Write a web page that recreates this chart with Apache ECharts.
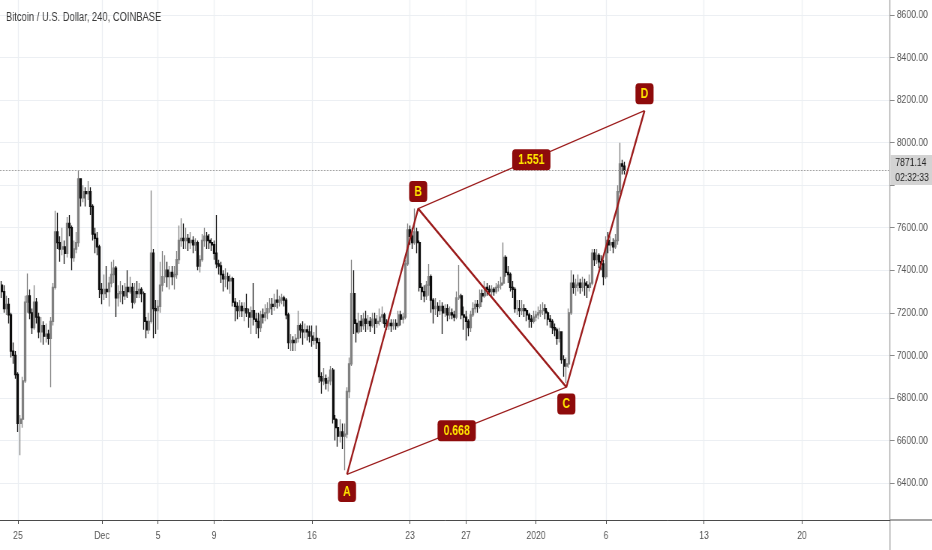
<!DOCTYPE html>
<html><head><meta charset="utf-8">
<script src="https://cdn.jsdelivr.net/npm/echarts@6/dist/echarts.min.js"></script>
<style>
html,body{margin:0;padding:0;background:#fff;overflow:hidden}
#wrap{width:932px;height:550px;overflow:hidden;position:relative}
#c{width:1243px;height:550px;transform:scaleX(0.75);transform-origin:0 0;position:absolute;left:0;top:0}
</style>
</head><body><div id="wrap"><div id="c"></div></div>
<script>
const titleText = 'Bitcoin / U.S. Dollar, 240, COINBASE';
const firstCandle = '2019-11-23T20:00:00Z';
const candleHours = 4;
const firstOpen = 7330;
const closes = [7300,
 7220,7240,7190,7020,7000,6910,
 6680,6700,6880,7250,7280,7200,
 7130,7250,7180,7110,7140,7090,
 7100,7080,7160,7320,7580,7530,
 7500,7510,7480,7620,7600,7460,
 7500,7530,7830,7740,7770,7760,
 7770,7700,7570,7550,7510,7310,
 7290,7310,7300,7340,7380,7410,
 7270,7290,7300,7280,7320,7300,
 7320,7250,7300,7290,7310,7290,
 7160,7120,7160,7480,7220,7210,
 7230,7330,7370,7400,7370,7390,
 7370,7380,7450,7540,7550,7540,
 7550,7530,7540,7520,7530,7420,
 7450,7540,7560,7540,7530,7520,
 7480,7430,7420,7380,7360,7370,
 7350,7360,7250,7230,7210,7230,
 7210,7220,7200,7180,7210,7170,
 7160,7130,7190,7180,7200,7220,
 7240,7230,7260,7250,7260,7270,
 7260,7190,7060,7070,7060,7080,
 7140,7120,7110,7120,7110,7090,
 7070,7080,7060,6900,6880,6890,
 6870,6880,6930,6700,6660,6620,
 6640,6620,6630,6830,6960,7290,
 7150,7110,7160,7140,7170,7150,
 7160,7140,7170,7150,7160,7180,
 7190,7150,7140,7150,7140,7150,
 7140,7190,7170,7180,7430,7590,
 7560,7530,7580,7530,7320,7300,
 7280,7330,7370,7260,7220,7230,
 7210,7230,7200,7220,7190,7200,
 7190,7180,7270,7280,7190,7180,
 7160,7130,7190,7220,7240,7230,
 7290,7280,7320,7310,7300,7310,
 7300,7320,7330,7340,7460,7390,
 7380,7320,7310,7220,7220,7210,
 7220,7210,7190,7170,7160,7180,
 7190,7200,7210,7220,7200,7170,
 7160,7130,7120,7080,7110,6980,
 6950,6960,7200,7340,7320,7330,
 7340,7320,7340,7330,7320,7340,
 7480,7450,7470,7440,7430,7370,
 7540,7520,7530,7510,7540,7770,
 7900,7890,7871.14];
const highs = [7350,
 7330,7280,7270,7200,7060,7020,
 6920,6720,6900,7280,7385,7310,
 7220,7330,7270,7200,7180,7160,
 7150,7120,7180,7340,7680,7670,
 7560,7600,7540,7650,7660,7610,
 7540,7580,7870,7830,7800,7790,
 7820,7790,7710,7600,7580,7520,
 7340,7380,7420,7370,7440,7450,
 7420,7330,7350,7330,7340,7400,
 7370,7340,7340,7350,7340,7320,
 7300,7180,7200,7775,7500,7260,
 7260,7440,7490,7470,7440,7420,
 7420,7420,7490,7610,7645,7620,
 7600,7570,7580,7560,7550,7540,
 7470,7570,7600,7580,7570,7550,
 7540,7660,7450,7440,7400,7410,
 7390,7380,7370,7270,7250,7260,
 7250,7250,7290,7220,7230,7340,
 7200,7200,7210,7220,7240,7250,
 7270,7270,7290,7310,7280,7290,
 7280,7270,7200,7100,7090,7100,
 7210,7150,7160,7150,7140,7140,
 7140,7110,7140,7080,6920,6940,
 6910,6900,6950,6940,6720,6700,
 6700,6680,6680,6850,6990,7450,
 7400,7170,7200,7190,7200,7210,
 7190,7180,7200,7200,7190,7220,
 7230,7200,7170,7180,7170,7170,
 7170,7210,7210,7200,7450,7620,
 7610,7600,7690,7600,7540,7340,
 7330,7350,7430,7380,7270,7270,
 7250,7260,7250,7240,7240,7230,
 7220,7210,7300,7425,7290,7230,
 7210,7170,7210,7250,7260,7260,
 7310,7310,7350,7340,7330,7330,
 7320,7340,7350,7370,7530,7470,
 7420,7390,7350,7320,7260,7260,
 7260,7240,7220,7200,7190,7210,
 7210,7230,7240,7250,7240,7210,
 7190,7170,7150,7130,7130,7110,
 7000,6990,7220,7400,7380,7360,
 7380,7360,7370,7360,7350,7380,
 7500,7500,7500,7480,7470,7450,
 7560,7580,7560,7550,7570,7800,
 8000,7920,7910];
const lows = [7270,
 7200,7190,7150,6990,6960,6890,
 6640,6530,6660,6870,7200,7170,
 7100,7120,7150,7080,7060,7050,
 7060,7050,6850,7140,7310,7500,
 7440,7470,7430,7460,7560,7400,
 7440,7480,7510,7700,7720,7700,
 7730,7660,7540,7480,7470,7270,
 7240,7260,7270,7230,7320,7340,
 7180,7230,7250,7240,7260,7270,
 7290,7220,7240,7270,7270,7250,
 7120,7080,7100,7150,7080,7100,
 7120,7200,7300,7340,7320,7310,
 7330,7310,7360,7430,7510,7500,
 7500,7490,7500,7480,7490,7400,
 7390,7440,7510,7500,7500,7490,
 7450,7410,7380,7340,7300,7320,
 7310,7290,7230,7160,7170,7180,
 7180,7160,7180,7130,7100,7140,
 7100,7080,7110,7150,7160,7170,
 7200,7190,7210,7220,7230,7240,
 7230,7170,7030,7020,7020,7020,
 7060,7080,7050,7080,7070,7060,
 7040,7050,7030,6870,6820,6860,
 6840,6830,6860,6680,6600,6570,
 6590,6560,6460,6610,6800,6950,
 7100,7060,7100,7110,7120,7110,
 7120,7110,7130,7100,7130,7140,
 7150,7130,7120,7120,7110,7120,
 7120,7130,7140,7150,7170,7420,
 7520,7500,7520,7480,7300,7260,
 7250,7260,7280,7200,7150,7190,
 7180,7190,7100,7180,7160,7170,
 7170,7160,7170,7260,7170,7120,
 7070,7090,7110,7180,7200,7200,
 7220,7250,7270,7280,7280,7280,
 7280,7290,7300,7310,7330,7370,
 7340,7300,7270,7200,7190,7180,
 7190,7180,7160,7130,7130,7150,
 7160,7170,7180,7190,7170,7140,
 7130,7100,7090,7050,7060,6960,
 6900,6870,6940,7190,7290,7280,
 7300,7290,7300,7280,7270,7300,
 7330,7420,7430,7410,7400,7330,
 7360,7480,7490,7480,7500,7520,
 7760,7850,7850];
const countdown = '02:32:33';

// Harmonic pattern points
const patternNames = ['A', 'B', 'C', 'D'];
const patternTimes = ['2019-12-18T12:00:00Z', '2019-12-23T14:00:00Z', '2020-01-03T04:00:00Z', '2020-01-08T18:00:00Z'];
const patternValues = [6440, 7690, 6851, 8150];
const ratioLabels = ['0.668', '1.551'];

// Axes
const xTickDates = ['2019-11-25','2019-12-01','2019-12-05','2019-12-09','2019-12-16','2019-12-23','2019-12-27','2020-01-01','2020-01-06','2020-01-13','2020-01-20'];
const xTickLabels = ['25','Dec','5','9','16','23','27','2020','6','13','20'];
const xMinDate = '2019-11-23T17:09:00Z';
const xMaxDate = '2020-01-26T06:51:00Z';
const yTicks = [6400, 6600, 6800, 7000, 7200, 7400, 7600, 7800, 8000, 8200, 8400, 8600];
const yLabelTicks = [6400, 6600, 6800, 7000, 7200, 7400, 7600, 8000, 8200, 8400, 8600];
const yMin = 6226, yMax = 8670.5;

// time -> days since the first x tick (a plain value axis in days)
const base = Date.parse(xTickDates[0] + 'T00:00:00Z');
const DAY = 86400000;
const toDay = ms => (ms - base) / DAY;

const t0 = Date.parse(firstCandle);
const n = Math.min(closes.length, highs.length, lows.length);
const candles = [];
for (let i = 0; i < n; i++) {
  const o = i === 0 ? firstOpen : closes[i - 1];
  const c = closes[i];
  candles.push([toDay(t0 + i * candleHours * 3600000), o, c, Math.min(lows[i], o, c), Math.max(highs[i], o, c)]);
}
const pts = patternTimes.map((t, i) => [toDay(Date.parse(t)), patternValues[i]]);
const mid = (a, b) => [(a[0] + b[0]) / 2, (a[1] + b[1]) / 2];
const xTicks = xTickDates.map(d => toDay(Date.parse(d + 'T00:00:00Z')));
const lastPrice = closes[n - 1];

const RED = '#9c1c1c';
const BOX = '#8e0b0b';
const YEL = '#ffe600';
const FONT = "'Liberation Sans',Arial,sans-serif";
const AXR = 1186.7; // right edge of plot (internal px)

const chart = echarts.init(document.getElementById('c'), null, {renderer: 'canvas'});
chart.setOption({
  animation: false,
  backgroundColor: '#ffffff',
  title: {text: titleText, left: 8, top: 11, padding: 0, textStyle: {fontSize: 12.5, fontWeight: 'normal', color: '#3a3a3a', fontFamily: FONT}},
  grid: {left: 0, right: 1243 - AXR, top: 0, bottom: 30, containLabel: false, outerBoundsMode: 'none'},
  xAxis: {
    type: 'value', min: toDay(Date.parse(xMinDate)), max: toDay(Date.parse(xMaxDate)),
    axisLine: {show: true, onZero: false, lineStyle: {color: '#4a4a4a', width: 1}},
    axisTick: {show: true, length: 4, customValues: xTicks, lineStyle: {color: '#4a4a4a'}},
    axisLabel: {customValues: xTicks, color: '#555', fontSize: 11.5, fontFamily: FONT, margin: 10,
      formatter: v => { let k = -1; xTicks.forEach((t, j) => { if (Math.abs(t - v) < 1e-6) k = j; }); return k >= 0 ? xTickLabels[k] : ''; }},
    splitLine: {show: true, lineStyle: {color: '#eceff3', width: 1.3}}
  },
  yAxis: {
    type: 'value', position: 'right', min: yMin, max: yMax,
    axisLine: {show: true, onZero: false, lineStyle: {color: '#a0a0a0', width: 1.3}},
    axisTick: {show: true, length: 6, customValues: yTicks, lineStyle: {color: '#8a8a8a'}},
    axisLabel: {customValues: yLabelTicks, color: '#555', fontSize: 11.5, fontFamily: FONT, margin: 9,
      formatter: v => Number(v).toFixed(2)},
    splitLine: {show: true, lineStyle: {color: '#eceff3', width: 1}}
  },
  graphic: [
    {type: 'line', shape: {x1: AXR, y1: 520, x2: 1243, y2: 520}, style: {stroke: '#4a4a4a', lineWidth: 1}, silent: true},
    {type: 'line', shape: {x1: AXR, y1: 520, x2: AXR, y2: 550}, style: {stroke: '#a0a0a0', lineWidth: 1.3}, silent: true}
  ],
  series: [
    {
      type: 'candlestick', data: candles, encode: {x: 0, y: [1, 2, 3, 4]},
      barWidth: 2.5,
      itemStyle: {color: '#808080', color0: '#0e0e0e', borderColor: '#808080', borderColor0: '#0e0e0e', borderWidth: 1.3},
      markLine: {
        symbol: 'none', silent: true, animation: false,
        data: [{yAxis: lastPrice}],
        lineStyle: {type: 'dotted', color: '#9a9a9a', width: 1},
        label: {position: 'end', distance: 1, fontFamily: FONT,
          formatter: () => '{a|' + lastPrice.toFixed(2) + '}\n{b|' + countdown + '}',
          rich: {
            a: {backgroundColor: '#d3d3d3', color: '#222', fontSize: 11.5, fontFamily: FONT, width: 48, padding: [2, 2, 1, 6], lineHeight: 15},
            b: {backgroundColor: '#d3d3d3', color: '#222', fontSize: 11.5, fontFamily: FONT, width: 48, padding: [2, 2, 1, 6], lineHeight: 15}
          }}
      },
      z: 2
    },
    {type: 'line', data: pts, symbol: 'none', lineStyle: {color: RED, width: 2.3}, z: 5, silent: true},
    {type: 'line', data: [pts[0], pts[2]], symbol: 'none', lineStyle: {color: RED, width: 1.3}, z: 5, silent: true},
    {type: 'line', data: [pts[1], pts[3]], symbol: 'none', lineStyle: {color: RED, width: 1.3}, z: 5, silent: true},
    {
      type: 'scatter', symbolSize: 1, itemStyle: {color: 'rgba(0,0,0,0)', opacity: 1}, z: 10, silent: true,
      data: pts.map((p, i) => ({value: p, name: patternNames[i],
        label: {show: true, position: (i % 2 === 0) ? 'bottom' : 'top', distance: 6, formatter: patternNames[i],
          color: YEL, fontWeight: 'bold', fontSize: 14, fontFamily: FONT, backgroundColor: BOX, borderRadius: 4, padding: [4, 7, 3, 7]}}))
    },
    {
      type: 'scatter', symbolSize: 1, itemStyle: {color: 'rgba(0,0,0,0)', opacity: 1}, z: 10, silent: true,
      data: [mid(pts[0], pts[2]), mid(pts[1], pts[3])].map((p, i) => ({value: p,
        label: {show: true, position: 'inside', formatter: ratioLabels[i], color: YEL, fontWeight: 'bold', fontSize: 14,
          fontFamily: FONT, backgroundColor: BOX, borderRadius: 4, padding: [4, 8, 3, 8]}}))
    }
  ]
});
</script></body></html>
